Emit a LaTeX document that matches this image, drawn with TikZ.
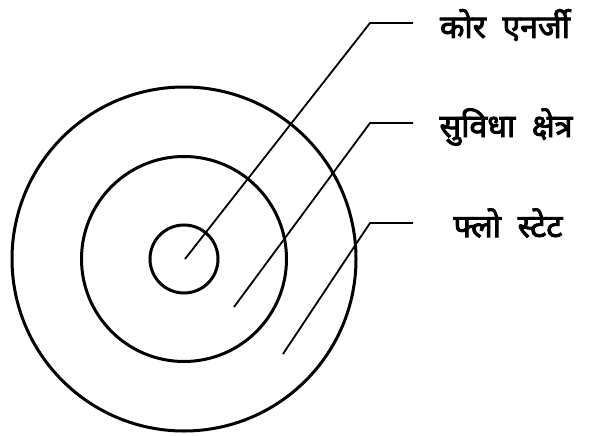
\documentclass[tikz,border=0pt]{standalone}
\usepackage{fontspec}
\newfontfamily\devfont[Script=Devanagari,FakeBold=2.8]{Noto Sans}
\begin{document}
\begin{tikzpicture}[x=1pt,y=-1pt,
  ring/.style={circle,draw=black,line width=3pt,inner sep=0pt},
  leader/.style={draw=black,line width=1.8pt},
  label/.style={font=\devfont\fontsize{32}{34}\selectfont,inner sep=0pt,anchor=center}]
\useasboundingbox (0,0) rectangle (589,436);
\node[ring,minimum size=344pt] (outer) at (184,259) {};
\node[ring,minimum size=205pt] (middle) at (184,259) {};
\node[ring,minimum size=68pt] (inner) at (184,259) {};
\coordinate (s1) at (185,259);
\coordinate (s2) at (234,307);
\coordinate (s3) at (283,354);
\coordinate (e1) at (370,23);
\coordinate (e2) at (370,123);
\coordinate (e3) at (370,223);
\coordinate (h1) at (413,23);
\coordinate (h2) at (413,123);
\coordinate (h3) at (413,223);
\draw[leader] (s1) -- (e1) -- (h1);
\draw[leader] (s2) -- (e2) -- (h2);
\draw[leader] (s3) -- (e3) -- (h3);
\node[label] (t1) at (505,25) {कोर~~एनर्जी};
\node[label] (t2) at (506,127) {सुविधा~~क्षेत्र};
\node[label] (t3) at (508,223) {फ्लो~~स्टेट};
\end{tikzpicture}
\end{document}
